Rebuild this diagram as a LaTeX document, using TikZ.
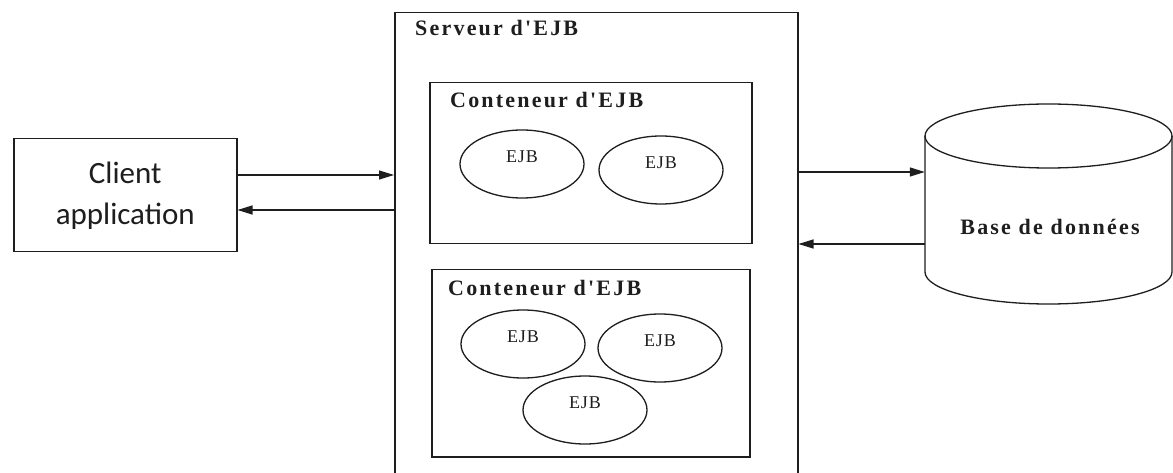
\documentclass[tikz,border=0pt]{standalone}
\usepackage{fontspec}
\setmainfont{Liberation Serif}
\newfontfamily\titlefont[LetterSpace=10,BoldFont={Liberation Serif Bold}]{Liberation Serif}
\newfontfamily\ejbfont[LetterSpace=5]{Liberation Serif}
\newfontfamily\clientfont{Carlito}
\usetikzlibrary{arrows.meta,shapes.geometric}
\definecolor{inkc}{HTML}{1E1E1E}

\tikzset{
  box/.style={draw=inkc, line width=1.5pt, rectangle, inner sep=0pt, anchor=north west},
  ejb/.style={draw=inkc, line width=1.3pt, ellipse, minimum width=124pt, minimum height=68pt, inner sep=0pt},
  ejblabel/.style={font=\ejbfont\fontsize{18}{18}\selectfont, text=inkc, yshift=7pt},
  title/.style={font=\titlefont\bfseries\fontsize{22}{22}\selectfont, text=inkc, inner sep=0pt},
  link/.style={draw=inkc, line width=1.2pt, -{Triangle[length=15pt,width=9pt]}},
  dbline/.style={draw=inkc, line width=1.3pt},
}

\begin{document}
\begin{tikzpicture}[x=1pt,y=-1pt]
\useasboundingbox (0,0) rectangle (1173,473);
\clip (0,0) rectangle (1173,473);
\fill[white] (0,0) rectangle (1173,473);

% client application
\node[box, minimum width=223pt, minimum height=113pt, align=center,
      font=\clientfont\fontsize{31}{41}\selectfont, text=inkc] (client) at (13,138)
      {Client\\application};

% EJB server, running past the lower edge
\node[box, minimum width=403pt, minimum height=480pt] (server) at (394,12) {};
\node[title, anchor=base west] (servertitle) at (415,36) {Serveur d'EJB};

% first container
\node[box, minimum width=322pt, minimum height=161pt] (cont1) at (429,82) {};
\node[title, anchor=base west] (cont1title) at (450,108) {Conteneur d'EJB};
\node[ejb, label={[ejblabel]center:EJB}] (e11) at (522,164) {};
\node[ejb, label={[ejblabel]center:EJB}] (e12) at (661,170) {};

% second container
\node[box, minimum width=318pt, minimum height=187pt] (cont2) at (431,269) {};
\node[title, anchor=base west] (cont2title) at (448,295) {Conteneur d'EJB};
\node[ejb, label={[ejblabel]center:EJB}] (e21) at (523,344) {};
\node[ejb, label={[ejblabel]center:EJB}] (e22) at (660,348) {};
\node[ejb, label={[ejblabel]center:EJB}] (e23) at (585,410) {};

% database: a cylinder drawn over the frame of the node db
\node[rectangle, inner sep=0pt, minimum width=247pt, minimum height=200pt] (db) at (1048.5,204) {};
\draw[dbline] (925,136) -- (925,272)
  arc[start angle=180, end angle=360, x radius=123.5pt, y radius=32pt] -- (1172,136);
\draw[dbline] (1048.5,136) ellipse[x radius=123.5pt, y radius=32pt];
\node[title, anchor=base] (dblabel) at (1050,235) {Base de données};

% exchanges
\draw[link] (client.east |- 0,175) -- (server.west |- 0,175);
\draw[link] (server.west |- 0,210) -- (client.east |- 0,210);
\draw[link] (server.east |- 0,172) -- (db.west |- 0,172);
\draw[link] (db.west |- 0,244) -- (server.east |- 0,244);
\end{tikzpicture}
\end{document}
